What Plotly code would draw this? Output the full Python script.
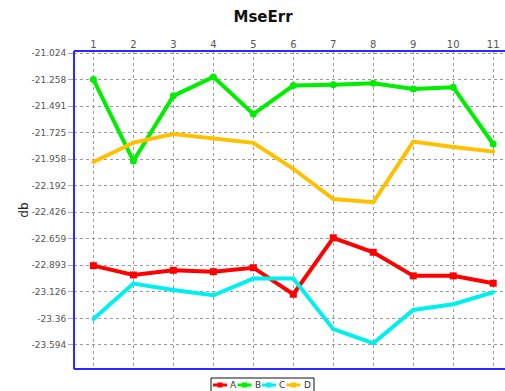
import plotly.graph_objects as go

# Sample index along the horizontal axis
steps = [1, 2, 3, 4, 5, 6, 7, 8, 9, 10, 11]

# Mean squared error per channel, in dB
err_a = [-22.896, -22.978, -22.937, -22.949, -22.914, -23.148, -22.651, -22.778, -22.986, -22.986, -23.051]
err_b = [-21.258, -21.974, -21.401, -21.234, -21.561, -21.310, -21.304, -21.291, -21.341, -21.326, -21.825]
err_c = [-23.365, -23.054, -23.110, -23.157, -23.010, -23.010, -23.455, -23.579, -23.286, -23.236, -23.130]
err_d = [-21.983, -21.813, -21.737, -21.780, -21.815, -22.043, -22.309, -22.338, -21.804, -21.851, -21.892]

# Value axis ticks
y_ticks = [-21.024, -21.258, -21.491, -21.725, -21.958, -22.192, -22.426,
           -22.659, -22.893, -23.126, -23.36, -23.594]
y_labels = ["-21.024", "-21.258", "-21.491", "-21.725", "-21.958", "-22.192", "-22.426",
            "-22.659", "-22.893", "-23.126", "-23.36", "-23.594"]

series = [
    ("A", err_a, "#ff0000", "square", 7),
    ("B", err_b, "#00ee00", "circle", 7),
    ("C", err_c, "#00f0f0", "circle", 4),
    ("D", err_d, "#ffc000", "circle", 4),
]

W, H = 505, 391
ML, MR, MT, MB = 74, 0, 51, 22
PW, PH = W - ML - MR, H - MT - MB


def px_x(p):
    return (p - ML) / PW


def px_y(p):
    return (H - MB - p) / PH


fig = go.Figure()
for name, vals, color, sym, msize in series:
    fig.add_trace(go.Scatter(
        x=steps, y=vals, name=name, mode="lines+markers",
        line=dict(color=color, width=4),
        marker=dict(symbol=sym, size=msize, color=color),
        showlegend=False,
    ))

font_main = "DejaVu Sans, Verdana, sans-serif"
border = "#2a2aff"

shapes = [
    # frame: left, top, bottom edges of the plotting area
    dict(type="line", xref="paper", yref="paper", x0=0, x1=0, y0=0, y1=1,
         line=dict(color=border, width=2)),
    dict(type="line", xref="paper", yref="paper", x0=0, x1=1, y0=1, y1=1,
         line=dict(color=border, width=2)),
    dict(type="line", xref="paper", yref="paper", x0=0, x1=1, y0=0, y1=0,
         line=dict(color=border, width=2)),
]
annotations = []

# compact legend box under the plot
leg_left, leg_right, leg_top, leg_bottom = 211, 314, 378, 394
shapes.append(dict(type="rect", xref="paper", yref="paper",
                   x0=px_x(leg_left), x1=px_x(leg_right), y0=px_y(leg_bottom), y1=px_y(leg_top),
                   line=dict(color="#111111", width=1), fillcolor="white", layer="above"))
leg_y = 385
for i, (name, vals, color, sym, msize) in enumerate(series):
    x0 = 213 + i * 24.5
    shapes.append(dict(type="line", xref="paper", yref="paper",
                       x0=px_x(x0), x1=px_x(x0 + 14), y0=px_y(leg_y), y1=px_y(leg_y),
                       line=dict(color=color, width=3), layer="above"))
    shapes.append(dict(type="rect", xref="paper", yref="paper",
                       x0=px_x(x0 + 4.5), x1=px_x(x0 + 9.5), y0=px_y(leg_y + 2.5), y1=px_y(leg_y - 2.5),
                       line=dict(width=0), fillcolor=color, layer="above"))
    annotations.append(dict(text=name, xref="paper", yref="paper", x=px_x(x0 + 15),
                            y=px_y(leg_y), xanchor="left", yanchor="middle", showarrow=False,
                            font=dict(family=font_main, size=9, color="#333333")))

fig.update_layout(
    width=W, height=H,
    margin=dict(l=ML, r=MR, t=MT, b=MB, autoexpand=False),
    paper_bgcolor="white", plot_bgcolor="white",
    font=dict(family=font_main, size=9, color="#555555"),
    title=dict(text="<b>MseErr</b>", x=263 / W, xanchor="center", xref="container",
               y=1 - 17 / H, yref="container", yanchor="middle",
               font=dict(family=font_main, size=15, color="#111111")),
    showlegend=False,
    shapes=shapes,
    annotations=annotations,
    xaxis=dict(
        side="top", range=[0.514, 11.295], tickmode="array", tickvals=steps,
        ticktext=[str(s) for s in steps],
        showgrid=True, gridcolor="#9a9a9a", griddash="dot", gridwidth=1,
        showline=False, ticks="", zeroline=False,
        tickfont=dict(family=font_main, size=10, color="#555555"),
    ),
    yaxis=dict(
        range=[-23.806, -21.006], tickmode="array", tickvals=y_ticks, ticktext=y_labels,
        showgrid=True, gridcolor="#9a9a9a", griddash="dot", gridwidth=1,
        showline=False, ticks="outside", ticklen=5, tickcolor="#aaaaaa", zeroline=False,
        title=dict(text="db", font=dict(family=font_main, size=12, color="#222222"), standoff=0),
    ),
)

fig.write_html("out.html")
